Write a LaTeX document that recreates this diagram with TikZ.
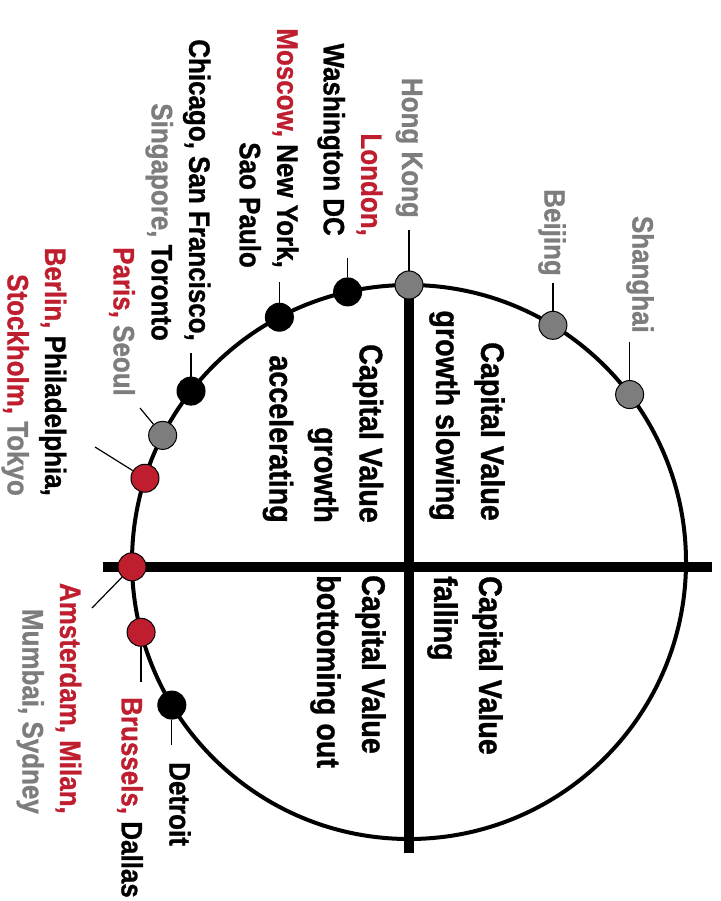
\documentclass[tikz,border=0pt]{standalone}
\usepackage{fontspec}
\setmainfont{Liberation Sans}[FakeStretch=0.88, BoldFeatures={FakeBold=1}]
\usetikzlibrary{calc}

\definecolor{cityred}{RGB}{190,30,45}
\definecolor{citygray}{RGB}{125,125,125}
\newcommand{\rd}[1]{\textcolor{cityred}{#1}}
\newcommand{\gy}[1]{\textcolor{citygray}{#1}}

\begin{document}
\begin{tikzpicture}[x=1pt, y=-1pt,
	ring/.style={line width=4pt},
	axis/.style={line width=9.5pt},
	leader/.style={line width=1.2pt},
	citydot/.style={circle, draw=black, line width=1pt, minimum size=28pt, inner sep=0pt},
	reddot/.style={citydot, fill=cityred},
	graydot/.style={citydot, fill=citygray},
	blackdot/.style={citydot, fill=black},
	city/.style={rotate=-90, inner sep=0pt, font=\fontsize{29.5}{37.5}\selectfont\bfseries},
	phase/.style={rotate=-90, inner sep=0pt, font=\fontsize{32.6}{45}\selectfont\bfseries}]
	
	\useasboundingbox (0,0) rectangle (720,901);
	
	\coordinate (c) at (409,562);
	\draw[ring] (c) circle[radius=277pt];
	
	% cross
	\coordinate (vtop) at (409,287);
	\coordinate (vbot) at (409,853);
	\coordinate (hleft) at (103,567);
	\coordinate (hright) at (712,567);
	\draw[axis] (vtop) -- (vbot);
	\draw[axis] (hleft) -- (hright);
	
	% phases
	\node[phase, anchor=east, align=right] (slowing) at (467,521) {Capital Value\\growth slowing};
	\node[phase, anchor=east, align=right] (accel) at (323,523) {Capital Value\\growth\\accelerating};
	\node[phase, anchor=west, align=left] (falling) at (465,576) {Capital Value\\falling};
	\node[phase, anchor=west, align=left] (bottom) at (348,575) {Capital Value\\bottoming out};
	
	% cities on the ring
	\node[graydot] (shanghai) at ($(c)+(37.2:277pt)$) {};
	\node[graydot] (beijing) at ($(c)+(58.7:277pt)$) {};
	\node[graydot] (hongkong) at ($(c)+(90:277pt)$) {};
	\node[blackdot] (washington) at ($(c)+(102.8:277pt)$) {};
	\node[blackdot] (newyork) at ($(c)+(117.9:277pt)$) {};
	\node[blackdot] (chicago) at ($(c)+(141.9:277pt)$) {};
	\node[graydot] (seoul) at ($(c)+(152.8:277pt)$) {};
	\node[reddot] (berlin) at ($(c)+(162.4:277pt)$) {};
	\node[reddot] (amsterdam) at ($(c)+(181:277pt)$) {};
	\node[reddot] (brussels) at ($(c)+(194.7:277pt)$) {};
	\node[blackdot] (detroit) at ($(c)+(211.1:277pt)$) {};
	
	% leader ends
	\coordinate (shanghai-end) at (shanghai |- 0,342);
	\coordinate (beijing-end) at (beijing |- 0,283);
	\coordinate (hongkong-end) at (hongkong |- 0,230);
	\coordinate (washington-end) at (washington |- 0,258);
	\coordinate (newyork-end) at (newyork |- 0,282);
	\coordinate (chicago-end) at (chicago |- 0,353);
	\coordinate (seoul-end) at (140,408);
	\coordinate (berlin-end) at (95,447);
	\coordinate (amsterdam-end) at (92,608);
	\coordinate (brussels-end) at (brussels |- 0,682);
	\coordinate (detroit-end) at (detroit |- 0,745);
	
	\foreach \p in {shanghai, beijing, hongkong, washington, newyork, chicago,
		seoul, berlin, amsterdam, brussels, detroit}
	\draw[leader] (\p) -- (\p-end);
	
	% labels
	\node[city, anchor=east, text=citygray] (shanghai-lbl) at (640,333) {Shanghai};
	\node[city, anchor=east, text=citygray] (beijing-lbl) at (552,276) {Beijing};
	\node[city, anchor=east, text=citygray] (hongkong-lbl) at (409,218) {Hong Kong};
	\node[city, anchor=east, align=right] (washington-lbl) at (350,236) {\rd{London,}\\Washington DC};
	\node[city, anchor=east, align=right] (newyork-lbl) at (269,268) {\rd{Moscow,} New York,\\Sao Paulo};
	\node[city, anchor=east, align=right] (chicago-lbl) at (178,341) {Chicago, San Francisco,\\\gy{Singapore,} Toronto};
	\node[city, anchor=east] (seoul-lbl) at (122,396) {\rd{Paris,} \gy{Seoul}};
	\node[city, anchor=east, align=right] (berlin-lbl) at (34,496) {\rd{Berlin,} Philadelphia,\\\rd{Stockholm,} \gy{Tokyo}};
	\node[city, anchor=east, align=right] (amsterdam-lbl) at (49,814) {\rd{Amsterdam, Milan,}\\\gy{Mumbai, Sydney}};
	\node[city, anchor=west] (brussels-lbl) at (130,697) {\rd{Brussels,} Dallas};
	\node[city, anchor=west] (detroit-lbl) at (180,762) {Detroit};
	
\end{tikzpicture}
\end{document}
